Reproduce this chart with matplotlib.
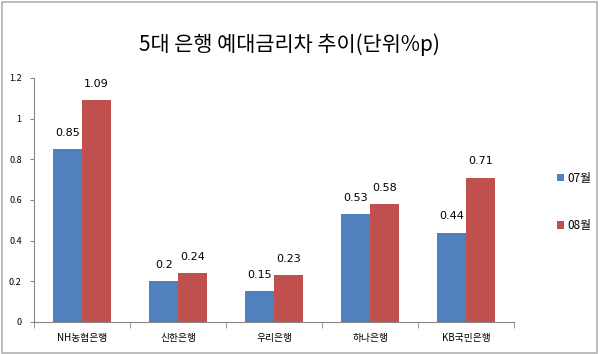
import matplotlib.pyplot as plt
import numpy as np
from matplotlib.patches import Rectangle

plt.rcParams['font.family'] = ['Noto Sans CJK KR', 'DejaVu Sans']

# Data
banks = ['NH농협은행', '신한은행', '우리은행', '하나은행', 'KB국민은행']
jul = [0.85, 0.2, 0.15, 0.53, 0.44]
aug = [1.09, 0.24, 0.23, 0.58, 0.71]
series_labels = ['07월', '08월']
colors = ['#4F81BD', '#C0504D']

fig = plt.figure(figsize=(6, 3.54), dpi=100)
ax = fig.add_axes([0.057, 0.0904, 0.8, 0.6893])

x = np.arange(len(banks))
w = 0.3
b1 = ax.bar(x - w / 2, jul, w, color=colors[0], label=series_labels[0])
b2 = ax.bar(x + w / 2, aug, w, color=colors[1], label=series_labels[1])

# value labels above bars
for bars, vals in [(b1, jul), (b2, aug)]:
    for rect, v in zip(bars, vals):
        ax.text(rect.get_x() + rect.get_width() / 2, v + 0.055, f'{v:g}',
                ha='center', va='bottom', fontsize=8, family='DejaVu Sans')

ax.set_xlim(-0.5, len(banks) - 0.5)
ax.set_ylim(0, 1.2)
ax.set_yticks(np.arange(0, 1.21, 0.2))
ax.set_yticklabels(['0', '0.2', '0.4', '0.6', '0.8', '1', '1.2'], fontsize=6.5)
ax.set_xticks(x)
ax.set_xticklabels(banks, fontsize=7)
ax.set_xticks(np.arange(-0.5, len(banks), 1), minor=True)
ax.tick_params(axis='x', which='major', length=0, pad=8)
ax.tick_params(axis='x', which='minor', length=4, color='#888888')
ax.tick_params(axis='y', length=3, color='#888888', pad=6)

for s in ['top', 'right']:
    ax.spines[s].set_visible(False)
for s in ['left', 'bottom']:
    ax.spines[s].set_color('#888888')

fig.text(0.483, 0.875, '5대 은행 예대금리차 추이(단위%p)', ha='center', va='center', fontsize=15)

ax.legend(loc='center left', bbox_to_anchor=(0.91, 0.43), bbox_transform=fig.transFigure,
          frameon=False, fontsize=8.5, handlelength=0.65, handleheight=0.65,
          labelspacing=2.9, handletextpad=0.25)

fig.patches.append(Rectangle((0.003, 0.004), 0.992, 0.99, transform=fig.transFigure,
                             fill=False, edgecolor='#B0B0B0', linewidth=1.2))

fig.savefig('out.png', dpi=100)
